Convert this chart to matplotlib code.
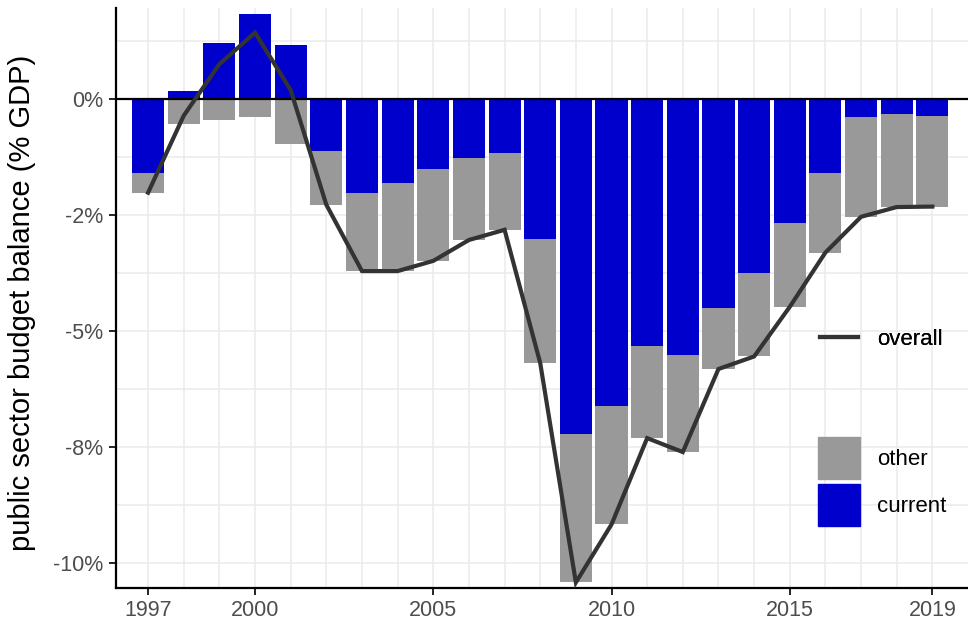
import numpy as np
import matplotlib
matplotlib.use("Agg")
import matplotlib.pyplot as plt
from matplotlib.patches import Patch
from matplotlib.lines import Line2D

plt.rcParams['font.family'] = ['Liberation Sans', 'DejaVu Sans']

years = np.arange(1997, 2020)
# current balance (% GDP), blue bars
current = [-1.59, 0.18, 1.20, 1.82, 1.16, -1.12, -2.03, -1.82, -1.51, -1.27, -1.16, -3.02,
           -7.22, -6.61, -5.32, -5.52, -4.51, -3.76, -2.68, -1.60, -0.39, -0.32, -0.37]
# other component (% GDP), grey bars
other = [-0.43, -0.54, -0.45, -0.39, -0.97, -1.16, -1.68, -1.89, -1.98, -1.77, -1.66, -2.67,
         -3.20, -2.56, -1.99, -2.09, -1.31, -1.79, -1.80, -1.71, -2.15, -2.01, -1.95]
ytick_vals = [0, -2.5, -5, -7.5, -10]
ytick_labels = ['0%', '-2%', '-5%', '-8%', '-10%']
xtick_vals = [1997, 2000, 2005, 2010, 2015, 2019]

current = np.array(current)
other = np.array(other)
overall = current + other
other_base = np.minimum(current, 0)

fig = plt.figure(figsize=(9.68, 6.28), dpi=100)
ax = fig.add_axes([116 / 968, 1 - 588 / 628, 1 - 116 / 968, (588 - 8) / 628])

# grid every year and every 1.25%
for x in years:
    ax.axvline(x, color='#ebebeb', lw=1.1, zorder=0)
for y in np.arange(1.25, -11, -1.25):
    ax.axhline(y, color='#ebebeb', lw=1.1, zorder=0)

ax.bar(years, current, width=0.9, color='#0000cc', zorder=2)
ax.bar(years, other, width=0.9, bottom=other_base, color='#999999', zorder=2)
ax.axhline(0, color='black', lw=1.6, zorder=3)
ax.plot(years, overall, color='#333333', lw=3, zorder=4, solid_joinstyle='miter')

ax.set_xlim(1996.1, 2020.0)
ax.set_ylim(-10.54, 1.96)
ax.set_yticks(ytick_vals)
ax.set_yticklabels(ytick_labels)
ax.set_xticks(xtick_vals)
ax.tick_params(axis='both', colors='black', labelcolor='#4d4d4d', labelsize=15.5,
               length=5, width=1.2, pad=4)

fig.text(22 / 968, 1 - 303 / 628, 'public sector budget balance (% GDP)', rotation=90,
         ha='center', va='center', fontsize=21, color='black')

for s in ['top', 'right']:
    ax.spines[s].set_visible(False)
for s in ['left', 'bottom']:
    ax.spines[s].set_linewidth(1.6)
    ax.spines[s].set_color('black')

leg1 = fig.legend(handles=[Line2D([], [], color='#333333', lw=3)], labels=['overall'],
                  loc='center left', bbox_to_anchor=(820 / 968, 1 - 339 / 628),
                  frameon=False, fontsize=16, handlelength=1.71, handletextpad=0.86,
                  borderpad=0, borderaxespad=0)
fig.add_artist(leg1)
fig.legend(handles=[Patch(color='#999999'), Patch(color='#0000cc')], labels=['other', 'current'],
           loc='upper left', bbox_to_anchor=(818 / 968, 1 - 437 / 628),
           frameon=False, fontsize=16, handlelength=1.89, handleheight=2.53,
           handletextpad=0.77, labelspacing=0.225, borderpad=0, borderaxespad=0)

fig.savefig('out.png', dpi=100)
